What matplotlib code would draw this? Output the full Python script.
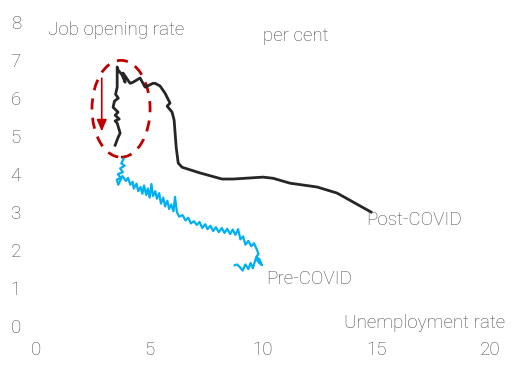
import matplotlib
matplotlib.use("Agg")
import matplotlib.pyplot as plt
from matplotlib.patches import Ellipse

plt.rcParams['font.family'] = ['Roboto', 'DejaVu Sans']

# Post-COVID path (unemployment rate, job opening rate)
post_x = [14.76, 13.26, 12.38, 11.19, 10.44, 10.0, 8.68, 8.19, 7.22, 6.43, 6.26, 6.17,
          6.08, 5.99, 5.77, 5.90, 5.68, 5.46, 5.24, 5.15, 4.80, 4.58, 4.27, 4.14, 3.83,
          3.92, 3.79, 3.61, 3.57, 3.57, 3.50, 3.62, 3.45, 3.39, 3.61, 3.48, 3.66, 3.48,
          3.57, 3.70, 3.60, 3.48]
post_y = [3.00, 3.50, 3.66, 3.76, 3.89, 3.92, 3.87, 3.87, 4.03, 4.18, 4.29, 4.71,
          5.42, 5.63, 5.79, 5.87, 6.13, 6.32, 6.39, 6.39, 6.29, 6.53, 6.42, 6.39, 6.66,
          6.42, 6.61, 6.74, 6.82, 6.29, 6.10, 6.00, 5.92, 5.76, 5.63, 5.55, 5.45, 5.40,
          5.34, 5.08, 4.95, 4.76]

# Pre-COVID path
pre_x = [3.85, 3.75, 3.90, 3.70, 3.82, 3.60, 3.72, 3.55, 3.62, 3.80, 3.95, 4.05, 4.15,
         4.25, 4.30, 4.42, 4.50, 4.60, 4.68, 4.75, 4.85, 4.92, 5.00, 5.08, 5.15, 5.25,
         5.32, 5.42, 5.50, 5.60, 5.68, 5.78, 5.86, 5.95, 6.05, 6.12, 6.20, 6.30, 6.45,
         6.58, 6.70, 6.82, 6.95, 7.08, 7.20, 7.32, 7.45, 7.55, 7.68, 7.80, 7.92, 8.05,
         8.18, 8.30, 8.42, 8.55, 8.66, 8.78, 8.90, 9.00, 9.12, 9.22, 9.35, 9.48, 9.60,
         9.72, 9.80, 9.70, 9.85, 9.95, 9.80, 9.68, 9.55, 9.45, 9.35, 9.22, 9.10, 8.98,
         8.85, 8.75]
pre_y = [4.40, 4.28, 4.22, 4.15, 4.05, 4.00, 3.90, 3.85, 3.72, 3.95, 3.82, 3.90, 3.72,
         3.80, 3.62, 3.75, 3.55, 3.66, 3.48, 3.70, 3.45, 3.62, 3.38, 3.74, 3.42, 3.55,
         3.35, 3.50, 3.22, 3.38, 3.15, 3.30, 3.08, 3.20, 3.02, 3.40, 3.00, 2.88, 2.92,
         2.78, 2.85, 2.70, 2.76, 2.66, 2.74, 2.58, 2.68, 2.55, 2.64, 2.50, 2.60, 2.47,
         2.58, 2.45, 2.56, 2.42, 2.54, 2.40, 2.55, 2.28, 2.36, 2.14, 2.24, 2.10, 2.18,
         2.02, 1.90, 1.82, 1.75, 1.60, 1.68, 1.78, 1.52, 1.66, 1.50, 1.62, 1.46, 1.55,
         1.62, 1.60]

x_ticks = [0, 5, 10, 15, 20]
y_ticks = [0, 1, 2, 3, 4, 5, 6, 7, 8]

TEXT = '#4a4a4a'
FS = 13.5
fig = plt.figure(figsize=(5.32, 3.76), dpi=100)
ax = fig.add_axes([0.068, 0.133, 0.853, 0.808])

ax.plot(post_x, post_y, color='#262626', lw=2, solid_joinstyle='round')
ax.plot(pre_x, pre_y, color='#00B0F0', lw=1.6, solid_joinstyle='round')

ax.add_patch(Ellipse((3.74, 5.72), 2.56, 2.55, fill=False, ec='#C00000',
                     lw=2, ls=(0, (4, 3))))
ax.annotate('', xy=(2.89, 5.05), xytext=(2.89, 6.6),
            arrowprops=dict(arrowstyle='-|>,head_width=0.3,head_length=0.7',
                            color='#C00000', lw=1.2))

ax.set_xlim(0, 20)
ax.set_ylim(0, 8)
ax.set_xticks(x_ticks)
ax.set_yticks(y_ticks)
for s in ax.spines.values():
    s.set_visible(False)
ax.tick_params(length=0, labelsize=FS, labelcolor=TEXT)
ax.tick_params(axis='x', pad=11)
ax.tick_params(axis='y', pad=11)
for lab in ax.get_xticklabels() + ax.get_yticklabels():
    lab.set_fontweight('light')

kw = dict(color=TEXT, fontsize=FS, fontweight='light')
ax.text(3.52, 7.79, 'Job opening rate', ha='center', va='center', **kw)
ax.text(10.0, 7.63, 'per cent', ha='left', va='center', **kw)
ax.text(14.54, 2.79, 'Post-COVID', ha='left', va='center', **kw)
ax.text(10.13, 1.24, 'Pre-COVID', ha='left', va='center', **kw)
ax.text(20.66, 0.08, 'Unemployment rate', ha='right', va='center', clip_on=False, **kw)

fig.savefig('out.png', dpi=100)
